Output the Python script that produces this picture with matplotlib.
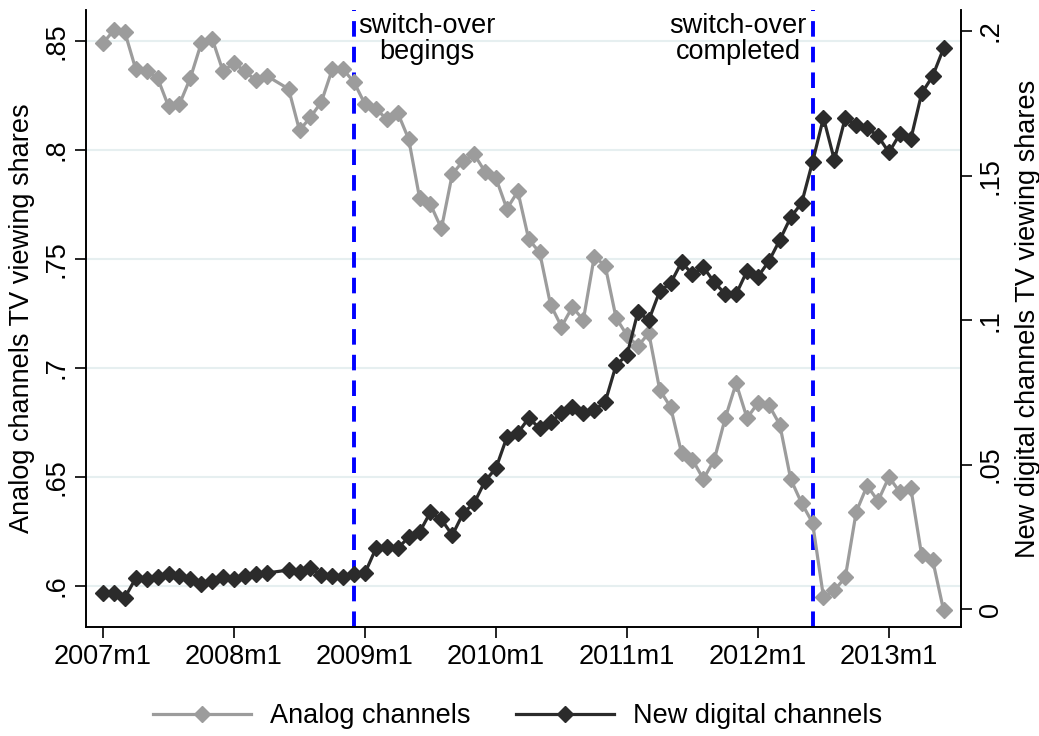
import matplotlib.pyplot as plt

plt.rcParams['font.family'] = ['Liberation Sans', 'DejaVu Sans']

# monthly observations 2007m1 .. 2013m6 (2008m5 is missing in the source)
months = list(range(0, 16)) + list(range(17, 78))

analog = [0.849, 0.855, 0.854, 0.837, 0.836, 0.833, 0.820, 0.821, 0.833, 0.849,
          0.851, 0.836, 0.840, 0.836, 0.832, 0.834,
          0.828, 0.809, 0.815, 0.822, 0.837, 0.837, 0.831,
          0.821, 0.819, 0.814, 0.817, 0.805, 0.778, 0.775, 0.764, 0.789, 0.795,
          0.798, 0.790, 0.787, 0.773, 0.781, 0.759, 0.753, 0.729, 0.719, 0.728,
          0.722, 0.751, 0.747, 0.723, 0.715, 0.710, 0.716, 0.690, 0.682, 0.661,
          0.658, 0.649, 0.658, 0.677, 0.693, 0.677, 0.684, 0.683, 0.674, 0.649,
          0.638, 0.629, 0.595, 0.598, 0.604, 0.634, 0.646, 0.639, 0.650, 0.643,
          0.645, 0.614, 0.612, 0.589]

digital = [0.0055, 0.0055, 0.0040, 0.0107, 0.0104, 0.0110, 0.0120, 0.0114, 0.0104,
           0.0087, 0.0097, 0.0110, 0.0104, 0.0114, 0.0120, 0.0125,
           0.0135, 0.0128, 0.0142, 0.0118, 0.0114, 0.0110, 0.0120,
           0.0125, 0.0210, 0.0215, 0.0210, 0.0249, 0.0266, 0.0336, 0.0310, 0.0256,
           0.0332, 0.0367, 0.0443, 0.0488, 0.0595, 0.0609, 0.0661, 0.0626, 0.0647,
           0.0678, 0.0699, 0.0678, 0.0689, 0.0716, 0.0844, 0.0879, 0.1028, 0.1000,
           0.1100, 0.1128, 0.1200, 0.1159, 0.1183, 0.1131, 0.1090, 0.1090, 0.1170,
           0.1150, 0.1204, 0.1277, 0.1356, 0.1405, 0.1547, 0.1700, 0.1554, 0.1700,
           0.1675, 0.1664, 0.1637, 0.1580, 0.1644, 0.1626, 0.1785, 0.1844, 0.1940]

xtick_pos = [0, 12, 24, 36, 48, 60, 72]
xtick_labels = ['2007m1', '2008m1', '2009m1', '2010m1', '2011m1', '2012m1', '2013m1']
left_ticks = [0.6, 0.65, 0.7, 0.75, 0.8, 0.85]
left_labels = ['.6', '.65', '.7', '.75', '.8', '.85']
right_ticks = [0, 0.05, 0.1, 0.15, 0.2]
right_labels = ['0', '.05', '.1', '.15', '.2']
events = [23, 65]  # 2008m12 and 2012m6

fs = 19.5
fig = plt.figure(figsize=(10.39, 7.36), dpi=100)
ax = fig.add_axes([86 / 1039, 109 / 736, 875 / 1039, 617 / 736])
ax2 = ax.twinx()

ax.plot(months, analog, color='#9c9c9c', lw=2.3, marker='D', ms=8,
        label='Analog channels', zorder=3)
ax2.plot(months, digital, color='#2b2b2b', lw=2.3, marker='D', ms=8,
         label='New digital channels', zorder=3)

for e in events:
    ax.axvline(e, color='#0000ff', lw=2.8, dashes=(4, 2.6), zorder=2)

ax.text(29.7, 0.995, 'switch-over\nbegings', transform=ax.get_xaxis_transform(),
        ha='center', va='top', fontsize=fs, linespacing=1.0)
ax.text(58.2, 0.995, 'switch-over\ncompleted', transform=ax.get_xaxis_transform(),
        ha='center', va='top', fontsize=fs, linespacing=1.0)

ax.set_xlim(-1.56, 78.6)
ax.set_ylim(0.5812, 0.8642)
ax2.set_ylim(-0.0062, 0.2073)

ax.set_xticks(xtick_pos)
ax.set_xticklabels(xtick_labels, fontsize=fs)
ax.set_yticks(left_ticks)
ax.set_yticklabels(left_labels, fontsize=fs, rotation=90, va='center')
ax2.set_yticks(right_ticks)
ax2.set_yticklabels(right_labels, fontsize=fs, rotation=90, va='center')

ax.grid(axis='y', color='#e6eff0', lw=1.5)
ax.set_axisbelow(True)
for a in (ax, ax2):
    a.spines['top'].set_visible(False)
    a.tick_params(length=8, width=1.2, pad=4)
    for s in ('left', 'right', 'bottom'):
        a.spines[s].set_linewidth(1.2)

ax.set_ylabel('Analog channels TV viewing shares', fontsize=fs, labelpad=6)
ax2.set_ylabel('New digital channels TV viewing shares', fontsize=fs, labelpad=8)

h1, l1 = ax.get_legend_handles_labels()
h2, l2 = ax2.get_legend_handles_labels()
fig.legend(h1 + h2, l1 + l2, loc='center', bbox_to_anchor=(0.498, 0.027),
           ncol=2, frameon=False, fontsize=fs, handlelength=3.6,
           handletextpad=0.7, columnspacing=1.7)

fig.savefig('out.png', dpi=100)
